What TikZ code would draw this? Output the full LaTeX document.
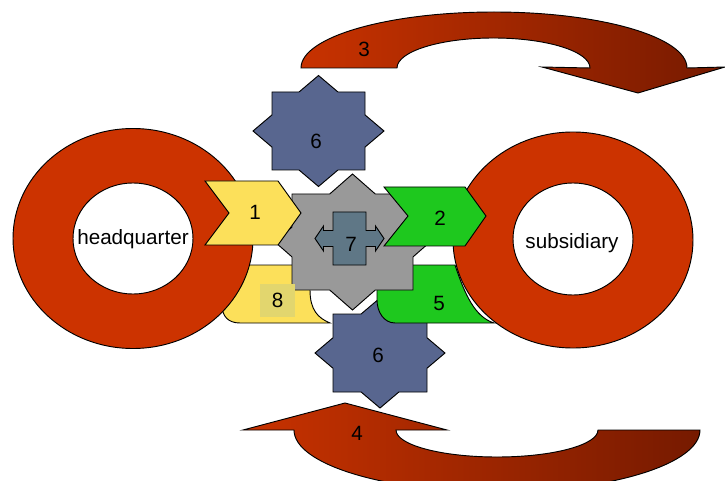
\documentclass[tikz,border=0pt]{standalone}
\usepackage{fontspec}
\setmainfont{Liberation Sans}
\definecolor{ringred}{HTML}{CC3300}
\definecolor{arrowlight}{HTML}{C83200}
\definecolor{arrowdark}{HTML}{761A00}
\definecolor{chevyellow}{HTML}{FCE05A}
\definecolor{chevgreen}{HTML}{1EC81E}
\definecolor{starblue}{HTML}{58668F}
\definecolor{stargray}{HTML}{999999}
\definecolor{crossblue}{HTML}{5F7786}
\definecolor{labelbox}{HTML}{E2D66E}
% eight pointed star: style, cx, cy, half width, half height, point x, point y
\newcommand{\eightstar}[7]{%
  \pgfmathsetmacro{\starnx}{#6*(1-#5/#7)}%
  \pgfmathsetmacro{\starny}{#7*(1-#4/#6)}%
  \draw[#1,shift={(#2,#3)}] (0,-#7) -- (\starnx,-#5) -- (#4,-#5) -- (#4,-\starny)
    -- (#6,0) -- (#4,\starny) -- (#4,#5) -- (\starnx,#5) -- (0,#7) -- (-\starnx,#5)
    -- (-#4,#5) -- (-#4,\starny) -- (-#6,0) -- (-#4,-\starny) -- (-#4,-#5)
    -- (-\starnx,-#5) -- cycle;}

\begin{document}
\begin{tikzpicture}[x=0.75pt,y=-0.75pt,line width=0.7pt,
  every node/.style={font=\fontsize{15.5}{18}\selectfont,inner sep=0pt},
  ring/.style={draw=black,fill=ringred,even odd rule},
  bigarrow/.style={draw=black,left color=arrowlight,right color=arrowdark},
  bluestar/.style={draw=black,fill=starblue},
  graystar/.style={draw=black,fill=stargray},
  yellowpart/.style={draw=black,fill=chevyellow},
  greenpart/.style={draw=black,fill=chevgreen}]
\useasboundingbox (0,0) rectangle (725,481);
% curved arrows
\draw[bigarrow] (301,68) arc[start angle=180,end angle=360,x radius=193,y radius=56]
  -- (725,67) -- (638,93) -- (542,67) -- (590,68)
  arc[start angle=0,end angle=-180,x radius=96.5,y radius=30] -- cycle;
\draw[bigarrow] (345,403) -- (447,430) -- (396,430)
  arc[start angle=180,end angle=0,x radius=101,y radius=27] -- (700,430)
  arc[start angle=0,end angle=180,x radius=203,y radius=62] -- (243,430) -- cycle;
% stars
\eightstar{bluestar}{318.5}{131}{46.5}{39}{65.5}{55.5}
\eightstar{bluestar}{380}{353}{47}{39}{65}{55}
% parts under the rings
\draw[yellowpart] (222,265) -- (310,265) -- (310,290)
  .. controls (310,310) and (318,318) .. (330,323) -- (240,323)
  .. controls (228,323) and (222,316) .. (222,305) -- cycle;
\draw[greenpart] (377,265) -- (455,265) .. controls (465,295) and (475,317) .. (494,323)
  -- (395,323) .. controls (384,323) and (377,312) .. (377,300) -- cycle;
% rings
\draw[ring] (133,238.5) ellipse[x radius=120,y radius=110]
  (133,238.5) ellipse[x radius=60,y radius=55.5];
\draw[ring] (573,240) ellipse[x radius=120,y radius=108]
  (573,239) ellipse[x radius=60,y radius=56];
% centre
\eightstar{graystar}{352.5}{242}{60.5}{48}{77.5}{68}
\draw[draw=black,fill=crossblue] (333,212) -- (366,212) -- (366,230.5) -- (375.5,230.5)
  -- (375.5,226) -- (384,238.5) -- (375.5,251) -- (375.5,246.5) -- (366,246.5)
  -- (366,265) -- (333,265) -- (333,246.5) -- (323.5,246.5) -- (323.5,251)
  -- (315,238.5) -- (323.5,226) -- (323.5,230.5) -- (333,230.5) -- cycle;
% chevrons
\draw[yellowpart] (205,181) -- (278,181) -- (301,213) -- (278,245) -- (205,245) -- (229,213) -- cycle;
\draw[greenpart] (384,187) -- (465,187) -- (486,216) -- (465,246) -- (384,246) -- (408,216) -- cycle;
% labels
\node (hq) at (133,239) {headquarter};
\node (sub) at (572,243) {subsidiary};
\node (one) at (255,212) {1};
\node (two) at (440,218) {2};
\node (three) at (364,49) {3};
\node (four) at (357,433) {4};
\node (five) at (439,303) {5};
\node (sixtop) at (316,141) {6};
\node (sixbot) at (378,355) {6};
\node (seven) at (351,244) {7};
\node[fill=labelbox,minimum width=26.25pt,minimum height=24.75pt] (eight) at (277.5,300.5) {8};
\end{tikzpicture}
\end{document}
